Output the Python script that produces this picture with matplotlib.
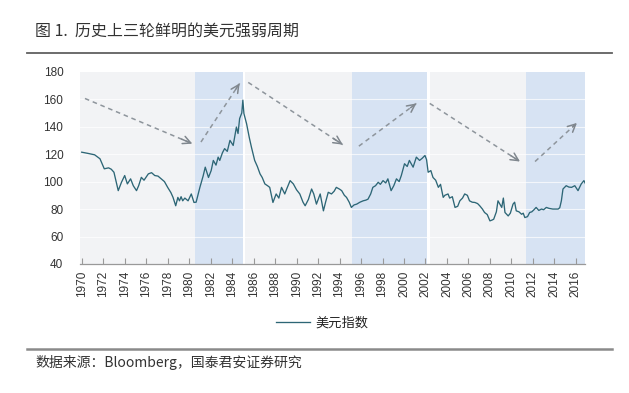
import numpy as np
import matplotlib
matplotlib.use("Agg")
import matplotlib.pyplot as plt
from matplotlib.lines import Line2D

plt.rcParams['font.family'] = ['Liberation Sans', 'Noto Sans CJK SC', 'DejaVu Sans']

# --- data (US dollar index) ---
dxy_years = [
    1970.0, 1970.6, 1971.2, 1971.7, 1972.1, 1972.5, 1972.75, 1973.0, 1973.2, 1973.4,
    1973.7, 1974.0, 1974.25, 1974.55, 1974.8, 1975.1, 1975.3, 1975.55, 1975.8, 1976.2,
    1976.5, 1976.8, 1977.1, 1977.4, 1977.7, 1978.0, 1978.3, 1978.5, 1978.75, 1978.95,
    1979.1, 1979.25, 1979.4, 1979.6, 1979.9, 1980.2, 1980.45, 1980.65, 1981.0, 1981.3,
    1981.5, 1981.8, 1982.05, 1982.25, 1982.5, 1982.7, 1982.85, 1983.1, 1983.3, 1983.55,
    1983.8, 1984.1, 1984.4, 1984.55, 1984.7, 1984.9, 1985.0, 1985.1, 1985.35, 1985.6,
    1985.8, 1986.1, 1986.35, 1986.6, 1986.8, 1987.05, 1987.3, 1987.5, 1987.8, 1988.1,
    1988.35, 1988.6, 1988.9, 1989.1, 1989.4, 1989.7, 1990.0, 1990.3, 1990.6, 1990.8,
    1991.1, 1991.4, 1991.6, 1991.85, 1992.2, 1992.5, 1992.7, 1992.95, 1993.25, 1993.5,
    1993.7, 1994.0, 1994.2, 1994.45, 1994.65, 1994.9, 1995.1, 1995.35, 1995.6, 1995.9,
    1996.2, 1996.45, 1996.65, 1996.9, 1997.1, 1997.35, 1997.6, 1997.8, 1998.05, 1998.3,
    1998.5, 1998.8, 1999.05, 1999.3, 1999.55, 1999.75, 2000.05, 2000.3, 2000.5, 2000.85,
    2001.15, 2001.45, 2001.7, 2001.95, 2002.1, 2002.25, 2002.5, 2002.7, 2002.95, 2003.2,
    2003.4, 2003.65, 2003.8, 2004.1, 2004.25, 2004.5, 2004.75, 2005.0, 2005.2, 2005.45,
    2005.65, 2005.9, 2006.1, 2006.35, 2006.6, 2006.85, 2007.05, 2007.3, 2007.5, 2007.75,
    2008.0, 2008.2, 2008.35, 2008.6, 2008.75, 2008.9, 2009.1, 2009.25, 2009.4, 2009.7,
    2009.9, 2010.15, 2010.3, 2010.45, 2010.7, 2010.95, 2011.1, 2011.25, 2011.5, 2011.7,
    2011.9, 2012.1, 2012.3, 2012.55, 2012.8, 2013.0, 2013.25, 2013.5, 2013.85, 2014.1,
    2014.35, 2014.5, 2014.65, 2014.8, 2015.1, 2015.35, 2015.6, 2015.9, 2016.2, 2016.5,
    2016.75, 2016.9,
]
dxy_values = [
    121.4, 120.5, 119.5, 116.6, 109.3, 110.0, 109.0, 106.8, 100.0, 93.4,
    99.5, 104.4, 98.3, 102.0, 97.0, 93.4, 97.0, 103.1, 101.0, 105.6,
    106.5, 104.4, 104.0, 102.0, 100.0, 95.8, 92.0, 88.5, 82.4, 88.5,
    86.0, 89.0, 86.0, 88.0, 86.0, 91.0, 84.8, 85.0, 95.8, 104.0,
    110.5, 103.0, 108.0, 115.4, 112.0, 117.8, 115.4, 121.0, 124.0, 122.0,
    130.0, 126.3, 139.7, 135.0, 145.9, 150.0, 159.3, 149.5, 142.0, 132.0,
    125.0, 115.4, 111.0, 105.6, 103.0, 98.3, 97.0, 95.8, 84.8, 91.0,
    88.0, 95.8, 91.0, 95.0, 100.7, 98.3, 94.0, 91.0, 85.0, 82.4,
    87.0, 94.6, 91.0, 83.6, 91.0, 78.7, 85.0, 92.2, 91.0, 93.0,
    95.8, 94.5, 93.4, 90.0, 88.5, 85.0, 81.2, 83.0, 83.6, 85.0,
    86.0, 86.5, 87.2, 91.0, 95.8, 97.0, 99.5, 98.0, 100.7, 99.0,
    102.0, 93.4, 97.0, 102.0, 100.0, 104.4, 113.0, 111.0, 115.4, 110.5,
    117.8, 115.4, 117.0, 119.0, 116.0, 106.8, 108.0, 103.0, 101.0, 95.8,
    98.0, 88.5, 90.0, 91.0, 88.0, 89.0, 81.2, 82.0, 86.0, 88.0,
    91.0, 90.0, 86.0, 85.0, 84.8, 84.0, 82.4, 80.0, 77.5, 76.0,
    71.4, 72.0, 72.6, 78.0, 86.0, 84.0, 81.2, 88.0, 77.5, 75.0,
    77.0, 83.6, 85.0, 78.7, 78.0, 76.2, 77.0, 73.8, 74.5, 77.5,
    78.0, 79.5, 81.2, 79.0, 80.0, 79.5, 81.2, 80.5, 80.0, 80.0,
    80.0, 81.0, 86.0, 94.6, 97.0, 96.0, 95.8, 97.0, 93.4, 98.3,
    100.7, 98.3,
]

# strong-dollar (blue) and weak-dollar (gray) periods
up_periods = [(1980.52, 1985.0), (1995.17, 2002.1), (2011.4, 2016.85)]
down_periods = [(1969.84, 1980.52), (1985.2, 1995.17), (2002.4, 2011.4)]

# trend arrows: (x0, y0, x1, y1)
trend_arrows = [
    (1970.3, 160.5, 1980.3, 127.6),
    (1981.1, 128.8, 1984.7, 171.5),
    (1985.5, 172.2, 1994.3, 126.9),
    (1995.8, 125.8, 2001.15, 156.9),
    (2002.4, 156.9, 2010.8, 114.6),
    (2012.2, 114.6, 2016.1, 142.7),
]

year_ticks = list(range(1970, 2017, 2))
value_ticks = [40, 60, 80, 100, 120, 140, 160, 180]

W, H = 629, 393
fig = plt.figure(figsize=(W / 100, H / 100), dpi=100)
ax = fig.add_axes([80 / W, 1 - 264 / H, (585 - 80) / W, (264 - 71.7) / H])

for a, b in down_periods:
    ax.axvspan(a, b, color="#f2f3f5", lw=0, zorder=0)
for a, b in up_periods:
    ax.axvspan(a, b, color="#d7e3f3", lw=0, zorder=0)

for v in value_ticks[1:-1]:
    ax.axhline(v, color="white", lw=0.8, alpha=0.7, zorder=1)

ax.plot(dxy_years, dxy_values, color="#2d6676", lw=0.95, zorder=3, label="美元指数")

# dashed trend arrows with open heads
for x0, y0, x1, y1 in trend_arrows:
    ax.plot([x0, x1], [y0, y1], color="#8e959c", lw=1.1, ls=(0, (3, 2.5)), zorder=2)
    ax.annotate("", xy=(x1, y1), xytext=(x0 + (x1 - x0) * 0.9, y0 + (y1 - y0) * 0.9),
                arrowprops=dict(arrowstyle="->", color="#80878e", lw=1.1,
                                mutation_scale=14, shrinkA=0, shrinkB=0),
                zorder=2)

ax.set_xlim(1969.84, 2016.85)
ax.set_ylim(40, 180)
ax.set_xticks(year_ticks)
ax.set_xticklabels([str(y) for y in year_ticks], rotation=90, fontsize=8.5, color="#333333")
ax.set_yticks(value_ticks)
ax.set_yticklabels([str(v) for v in value_ticks], fontsize=8.5, color="#333333")
ax.tick_params(axis="x", direction="in", length=4, color="#999999", pad=5)
ax.tick_params(axis="y", length=0, pad=12)
for s in ("top", "right", "left"):
    ax.spines[s].set_visible(False)
ax.spines["bottom"].set_color("#999999")
ax.spines["bottom"].set_linewidth(0.9)
ax.set_facecolor("white")

leg = fig.legend(loc="center", bbox_to_anchor=(322 / W, 1 - 323 / H), frameon=False,
                 fontsize=9.5, handlelength=2.6, handletextpad=0.4)
for t in leg.get_texts():
    t.set_color("#222222")

fig.text(35 / W, 1 - 31.7 / H, "图 1.  历史上三轮鲜明的美元强弱周期", fontsize=11.5,
         color="#333333", va="center", ha="left",
         family=["Noto Sans CJK SC", "DejaVu Sans"])
fig.text(35 / W, 1 - 363 / H, "数据来源：Bloomberg，国泰君安证券研究", fontsize=10,
         color="#333333", va="center", ha="left",
         family=["Noto Sans CJK SC", "DejaVu Sans"])

fig.add_artist(Line2D([27 / W, 612 / W], [1 - 52.7 / H] * 2, color="#606060", lw=1.3))
fig.add_artist(Line2D([27 / W, 612 / W], [1 - 349 / H] * 2, color="#8a8a8a", lw=1.8))

fig.savefig("out.png", dpi=100)
